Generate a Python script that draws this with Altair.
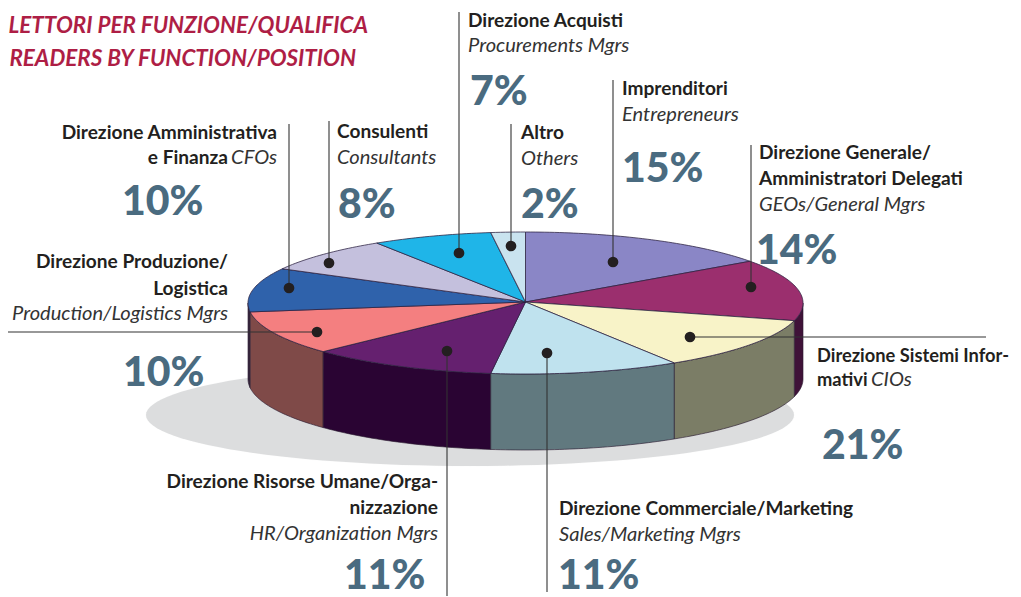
import math
import altair as alt
import pandas as pd

categories = ["Imprenditori", "Direzione Generale", "Direzione Sistemi Informativi",
              "Direzione Commerciale", "Direzione Risorse Umane", "Direzione Produzione",
              "Direzione Amministrativa", "Consulenti", "Direzione Acquisti", "Altro"]
# slice sizes as drawn in the picture (the 21% label is printed on a 12% slice)
shares = [15, 14, 12, 11, 11, 10, 10, 8, 7, 2]
top_colors = ["#8a86c6", "#9b2f6e", "#f8f3c8", "#bfe2ee", "#65206f",
              "#f47f80", "#2f62ab", "#c4c0dd", "#1fb5e8", "#c9e3ef"]
side_colors = ["#8a86c6", "#3f1238", "#7b7d66", "#61797f", "#2a0433",
               "#7f4a48", "#3a2a40", "#c4c0dd", "#1fb5e8", "#c9e3ef"]

BOLD, BOLDS, ITAL, PCT, HEAD = "bold", "bolds", "ital", "pct", "head"
texts = [
    ("LETTORI PER FUNZIONE/QUALIFICA", HEAD, 368, 33, "right"),
    ("READERS BY FUNCTION/POSITION", HEAD, 356, 66, "right"),
    ("Direzione Amministrativa", BOLD, 277, 139, "right"),
    ("e Finanza", BOLD, 228, 164, "right"),
    ("CFOs", ITAL, 277, 164, "right"),
    ("10%", PCT, 122, 215, "left"),
    ("Consulenti", BOLD, 337, 138, "left"),
    ("Consultants", ITAL, 337, 164, "left"),
    ("8%", PCT, 338, 218, "left"),
    ("Direzione Acquisti", BOLD, 468, 27, "left"),
    ("Procurements Mgrs", ITAL, 468, 52, "left"),
    ("7%", PCT, 470, 105, "left"),
    ("Altro", BOLD, 521, 139, "left"),
    ("Others", ITAL, 521, 165, "left"),
    ("2%", PCT, 521, 218, "left"),
    ("Imprenditori", BOLD, 622, 95, "left"),
    ("Entrepreneurs", ITAL, 622, 121, "left"),
    ("15%", PCT, 622, 182, "left"),
    ("Direzione Generale/", BOLD, 759, 159, "left"),
    ("Amministratori Delegati", BOLD, 759, 185, "left"),
    ("GEOs/General Mgrs", ITAL, 759, 211, "left"),
    ("14%", PCT, 756, 264, "left"),
    ("Direzione Produzione/", BOLD, 228, 268, "right"),
    ("Logistica", BOLD, 228, 295, "right"),
    ("Production/Logistics Mgrs", ITAL, 228, 320, "right"),
    ("10%", PCT, 123, 386, "left"),
    ("Direzione Sistemi Infor-", BOLDS, 817, 362, "left"),
    ("mativi", BOLDS, 817, 386, "left"),
    ("CIOs", ITAL, 871, 386, "left"),
    ("21%", PCT, 822, 459, "left"),
    ("Direzione Commerciale/Marketing", BOLD, 559, 515, "left"),
    ("Sales/Marketing Mgrs", ITAL, 559, 541, "left"),
    ("11%", PCT, 558, 589, "left"),
    ("Direzione Risorse Umane/Orga-", BOLD, 438, 488, "right"),
    ("nizzazione", BOLD, 438, 514, "right"),
    ("HR/Organization Mgrs", ITAL, 438, 540, "right"),
    ("11%", PCT, 344, 589, "left"),
]
leaders = [(289, 124, 289, 288), (329, 121, 329, 263), (459, 12, 459, 253),
           (511, 124, 511, 246), (613, 80, 613, 262), (751, 145, 751, 287),
           (986, 337, 690, 337), (547, 592, 547, 353), (447, 596, 447, 351),
           (8, 332, 317, 332)]

CX, CY, A, B, DEPTH = 525.5, 303, 277.5, 71, 76
XS = alt.Scale(domain=[8, 1013], nice=False, zero=False)
YS = alt.Scale(domain=[608, 8], nice=False, zero=False)
X = alt.X("x:Q", scale=XS, axis=None)
Y = alt.Y("y:Q", scale=YS, axis=None)
X2 = alt.X2("x2:Q")
Y2 = alt.Y2("y2:Q")


def rim(deg, dy=0):
    r = math.radians(deg)
    return CX + A * math.sin(r), CY - B * math.cos(r) + dy


def arc(d0, d1, dy=0):
    n = max(2, int(abs(d1 - d0)) + 1)
    return [rim(d0 + (d1 - d0) * k / (n - 1), dy) for k in range(n)]


def poly(points, fill, stroke="#2b2140", width=0.9, opacity=0.85):
    df = pd.DataFrame([{"i": i, "x": p[0], "y": p[1]} for i, p in enumerate(points)])
    return alt.Chart(df).mark_line(fill=fill, stroke=stroke, strokeWidth=width,
                                   strokeOpacity=opacity, strokeJoin="round", clip=False).encode(
        x=X, y=Y, order=alt.Order("i:Q"))


layers = []
# ground shadow
sh = [(470 + 324 * math.cos(math.radians(d)), 415 + 51 * math.sin(math.radians(d))) for d in range(0, 361, 3)]
layers.append(poly(sh, "#dcddde", "#dcddde", 0.1, 1))

edges, c = [], 0
for s in shares:
    edges.append((c * 3.6, (c + s) * 3.6))
    c += s

# side walls, outer to centre
wall = []
for (d0, d1), col in zip(edges, side_colors):
    a0, a1 = max(d0, 90), min(d1, 270)
    if a1 > a0:
        wall.append((abs((a0 + a1) / 2 - 180), a0, a1, col))
for _, a0, a1, col in sorted(wall, key=lambda t: -t[0]):
    pts = arc(a0, a1) + arc(a1, a0, DEPTH)
    layers.append(poly(pts + pts[:1], col, "#2a1a30", 0.9, 0.7))

# top faces
for (d0, d1), col in zip(edges, top_colors):
    pts = [(CX, CY - 1)] + arc(d0, d1) + [(CX, CY - 1)]
    layers.append(poly(pts, col))

# leaders and dots
ldf = pd.DataFrame(leaders, columns=["x", "y", "x2", "y2"])
layers.append(alt.Chart(ldf).mark_rule(color="#333333", strokeWidth=1.1, clip=False).encode(x=X, y=Y, x2=X2, y2=Y2))
layers.append(alt.Chart(ldf).mark_circle(size=115, color="#231f20", opacity=1, clip=False).encode(
    x=alt.X("x2:Q", scale=XS, axis=None),
    y=alt.Y("y2:Q", scale=YS, axis=None)))

styles = {
    BOLD: dict(fontSize=19.1, fontWeight="bold", color="#231f20"),
    BOLDS: dict(fontSize=18.3, fontWeight="bold", color="#231f20"),
    ITAL: dict(fontSize=20.1, fontStyle="italic", color="#333333"),
    PCT: dict(fontSize=41, fontWeight=900, color="#4a6b80"),
    HEAD: dict(fontSize=22.4, fontWeight="bold", fontStyle="italic", color="#ae1e45"),
}
tdf = pd.DataFrame(texts, columns=["t", "style", "x", "y", "align"])
for (st, al), g in tdf.groupby(["style", "align"]):
    layers.append(alt.Chart(g).mark_text(font="Lato", align=al, baseline="alphabetic", clip=False,
                                         **styles[st]).encode(x=X, y=Y, text="t:N"))

chart = alt.layer(*layers).properties(
    width=1005, height=600, padding=0, autosize=alt.AutoSizeParams(type="none"),
    background="white").configure_view(stroke=None)
chart.save("out.html", embed_options={"renderer": "svg", "actions": False})
